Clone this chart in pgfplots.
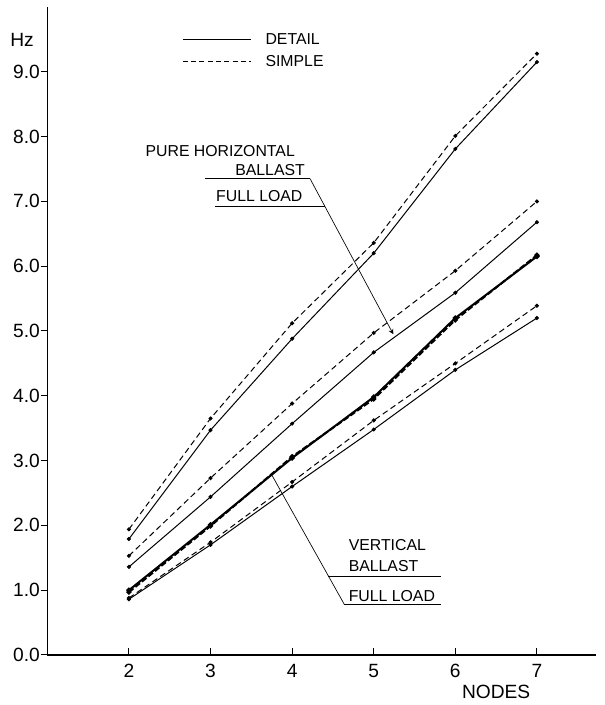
\documentclass[border=0pt]{standalone}
\usepackage{fontspec}
\setmainfont{Liberation Sans}
\usepackage{pgfplots}
\pgfplotsset{compat=1.18}
\begin{document}
\begin{tikzpicture}
\path[use as bounding box] (-28.4pt,-30pt) rectangle (334pt,393pt);
\begin{axis}[
  at={(0,0)}, anchor=south west,
  scale only axis, width=329pt, height=388.8pt,
  xmin=1, xmax=7.72, ymin=0, ymax=10,
  axis lines=left, axis line style={-, line width=0.8pt},
  clip=false,
  xtick={2,...,7}, ytick={0,...,9},
  xticklabels={2,3,4,5,6,7},
  yticklabels={0.0,1.0,2.0,3.0,4.0,5.0,6.0,7.0,8.0,9.0},
  tick align=inside, major tick length=4pt,
  tick style={black, line width=0.6pt},
  ytick style={xshift=-4pt},
  tick label style={font=\fontsize{11.5}{13}\selectfont},
  xticklabel style={yshift=-2pt},
  yticklabel style={xshift=-1pt},
  every axis plot/.append style={black, line width=0.6pt, mark=*, mark size=0.9pt},
]
% top pair
\addplot[dash pattern=on 3.5pt off 2.2pt, mark options={solid}] coordinates {(2,1.94) (3,3.65) (4,5.12) (5,6.36) (6,8.01) (7,9.28)};
\addplot[solid] coordinates {(2,1.79) (3,3.47) (4,4.88) (5,6.20) (6,7.81) (7,9.15)};
% pure horizontal ballast
\addplot[dash pattern=on 3.5pt off 2.2pt, mark options={solid}] coordinates {(2,1.53) (3,2.73) (4,3.88) (5,4.97) (6,5.93) (7,7.00)};
\addplot[solid] coordinates {(2,1.36) (3,2.44) (4,3.57) (5,4.67) (6,5.59) (7,6.68)};
% thick pair
\addplot[solid, line width=1.2pt] coordinates {(2,1.00) (3,2.01) (4,3.04) (5,3.98) (6,5.20) (7,6.15)};
\addplot[line width=1.2pt, dash pattern=on 3.5pt off 1.5pt, mark options={solid}] coordinates {(2,0.97) (3,1.99) (4,3.06) (5,3.95) (6,5.17) (7,6.17)};
% vertical ballast
\addplot[dash pattern=on 3.5pt off 2.2pt, mark options={solid}] coordinates {(2,0.88) (3,1.74) (4,2.67) (5,3.62) (6,4.50) (7,5.39)};
\addplot[solid] coordinates {(2,0.86) (3,1.70) (4,2.60) (5,3.48) (6,4.40) (7,5.20)};

% legend
\draw[line width=0.8pt] (axis cs:2.66,9.5) -- (axis cs:3.50,9.5);
\draw[line width=0.6pt, dash pattern=on 3pt off 2pt] (axis cs:2.66,9.16) -- (axis cs:3.50,9.16);
\node[anchor=west, inner sep=0pt, font=\fontsize{9.5}{11}\selectfont] at (axis cs:3.67,9.5) {DETAIL};
\node[anchor=west, inner sep=0pt, font=\fontsize{9.5}{11}\selectfont] at (axis cs:3.67,9.16) {SIMPLE};

% Hz
\node[inner sep=0pt, font=\fontsize{11.5}{13}\selectfont] at (axis cs:0.69,9.49) {Hz};
% NODES
\node[inner sep=0pt, font=\fontsize{11.5}{13}\selectfont] at (axis cs:6.5,-0.57) {NODES};

% upper annotation
\node[anchor=west, inner sep=0pt, font=\fontsize{9.5}{11}\selectfont] at (axis cs:2.2,7.77) {PURE HORIZONTAL};
\node[anchor=east, inner sep=0pt, font=\fontsize{9.5}{11}\selectfont] at (axis cs:4.16,7.49) {BALLAST};
\node[anchor=east, inner sep=0pt, font=\fontsize{9.5}{11}\selectfont] at (axis cs:4.13,7.08) {FULL LOAD};
\draw[line width=0.4pt] (axis cs:2.93,7.35) -- (axis cs:4.22,7.35);
\draw[line width=0.4pt] (axis cs:3.05,6.92) -- (axis cs:4.40,6.92);
\draw[line width=0.4pt, -stealth] (axis cs:4.22,7.35) -- (axis cs:5.24,4.95);

% lower annotation
\node[anchor=west, inner sep=0pt, font=\fontsize{9.5}{11}\selectfont] at (axis cs:4.69,1.69) {VERTICAL};
\node[anchor=west, inner sep=0pt, font=\fontsize{9.5}{11}\selectfont] at (axis cs:4.69,1.38) {BALLAST};
\node[anchor=west, inner sep=0pt, font=\fontsize{9.5}{11}\selectfont] at (axis cs:4.69,0.91) {FULL LOAD};
\draw[line width=0.4pt] (axis cs:3.75,2.78) -- (axis cs:4.64,0.78);
\draw[line width=0.4pt] (axis cs:4.44,1.22) -- (axis cs:5.83,1.22);
\draw[line width=0.4pt] (axis cs:4.64,0.78) -- (axis cs:5.83,0.78);
\end{axis}
\end{tikzpicture}
\end{document}
